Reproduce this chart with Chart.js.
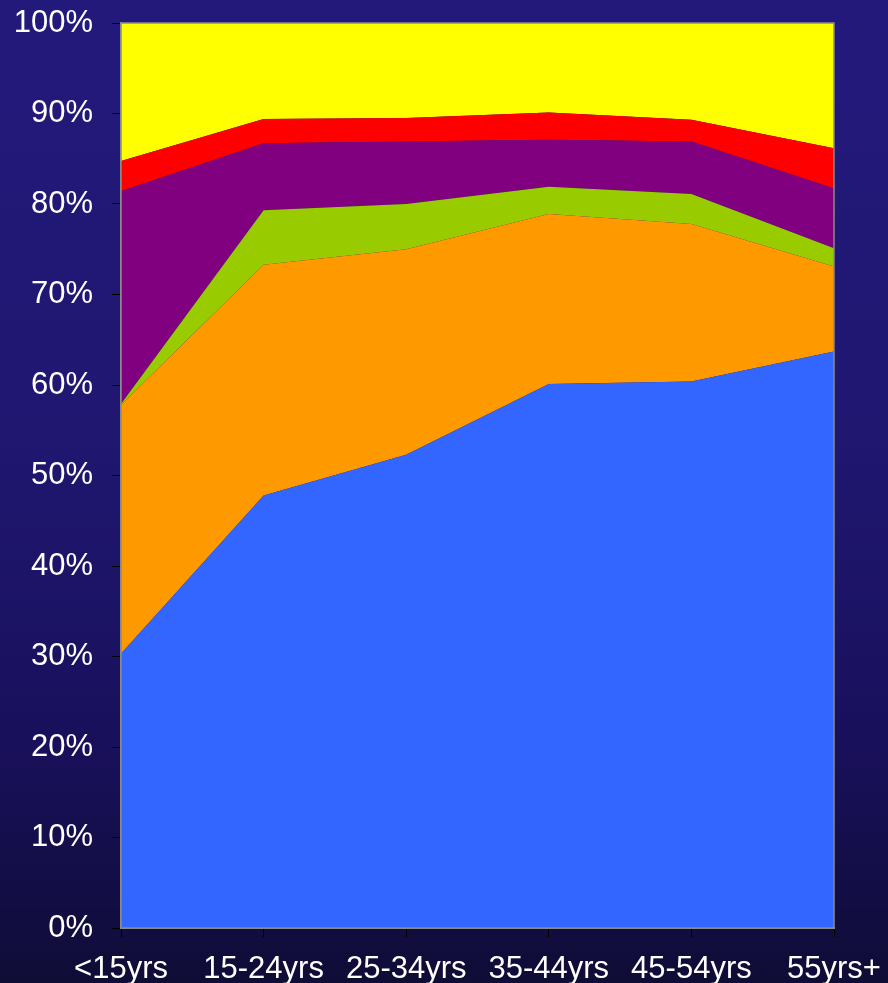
<!DOCTYPE html>
<html>
<head>
<meta charset="utf-8">
<script src="https://cdn.jsdelivr.net/npm/chart.js@4.4.1/dist/chart.umd.min.js"></script>
<style>
  html, body { margin: 0; padding: 0; }
  body {
    width: 888px; height: 983px; overflow: hidden;
    background: linear-gradient(to bottom, #23197c 0%, #1f1770 45%, #19105c 75%, #0f0c36 100%);
  }
  #wrap { position: relative; width: 888px; height: 983px; }
</style>
</head>
<body>
<div id="wrap"><canvas id="chart" width="888" height="983"></canvas></div>
<script>
// age groups along the x axis
const ageGroups = ["<15yrs", "15-24yrs", "25-34yrs", "35-44yrs", "45-54yrs", "55yrs+"];

// share of each segment per age group (%), stacked bottom to top
const blueVals   = [30.3, 47.8, 52.3, 60.1, 60.4, 63.7];
const orangeVals = [27.5, 25.5, 22.7, 18.8, 17.4, 9.4];
const greenVals  = [0.1, 6.0, 5.0, 3.0, 3.3, 2.0];
const purpleVals = [23.5, 7.4, 6.9, 5.2, 5.8, 6.6];
const redVals    = [3.35, 2.7, 2.6, 3.0, 2.4, 4.45];
const yellowVals = [15.25, 10.6, 10.5, 9.9, 10.7, 13.85];

const yTicks = [0, 10, 20, 30, 40, 50, 60, 70, 80, 90, 100];

const series = [
  { data: blueVals,   color: "#3366ff" },
  { data: orangeVals, color: "#ff9900" },
  { data: greenVals,  color: "#99cc00" },
  { data: purpleVals, color: "#800080" },
  { data: redVals,    color: "#ff0000" },
  { data: yellowVals, color: "#ffff00" }
];

const plotBorder = {
  id: "plotBorder",
  afterDatasetsDraw(chart) {
    const a = chart.chartArea;
    const ctx = chart.ctx;
    ctx.save();
    ctx.strokeStyle = "#8a8a8a";
    ctx.lineWidth = 1.5;
    ctx.strokeRect(a.left, a.top, a.right - a.left, a.bottom - a.top);
    ctx.restore();
  }
};

const font = { family: "'Liberation Sans', Arial, sans-serif", size: 31 };

// let the layout padding alone decide where the plot sits
function noPad(scale) {
  scale.paddingTop = 0;
  scale.paddingBottom = 0;
  scale.paddingLeft = 0;
  scale.paddingRight = 0;
}

new Chart(document.getElementById("chart"), {
  type: "line",
  data: {
    labels: ageGroups,
    datasets: series.map((s, i) => ({
      data: s.data,
      backgroundColor: s.color,
      borderColor: s.color,
      borderWidth: 0,
      pointRadius: 0,
      tension: 0,
      fill: i === 0 ? "origin" : "-1"
    }))
  },
  options: {
    responsive: false,
    animation: false,
    devicePixelRatio: 1,
    layout: { padding: { top: 23, right: 54, left: 0, bottom: 0 } },
    plugins: { legend: { display: false }, tooltip: { enabled: false } },
    scales: {
      x: {
        offset: false,
        grid: { display: true, drawOnChartArea: false, color: "#000000", tickLength: 9 },
        border: { display: true, color: "#8a8a8a", width: 2 },
        ticks: { color: "#ffffff", font: font, padding: 14, maxRotation: 0, autoSkip: false },
        afterFit(scale) { scale.height = 55; noPad(scale); }
      },
      y: {
        stacked: true,
        min: 0,
        max: 100,
        afterBuildTicks(scale) { scale.ticks = yTicks.map(v => ({ value: v })); },
        grid: { display: true, drawOnChartArea: false, color: "#000000", tickLength: 9 },
        border: { display: true, color: "#8a8a8a", width: 2 },
        ticks: { color: "#ffffff", font: font, padding: 19, callback: v => v + "%" },
        afterFit(scale) { scale.width = 121; noPad(scale); }
      }
    }
  },
  plugins: [plotBorder]
});
</script>
</body>
</html>
